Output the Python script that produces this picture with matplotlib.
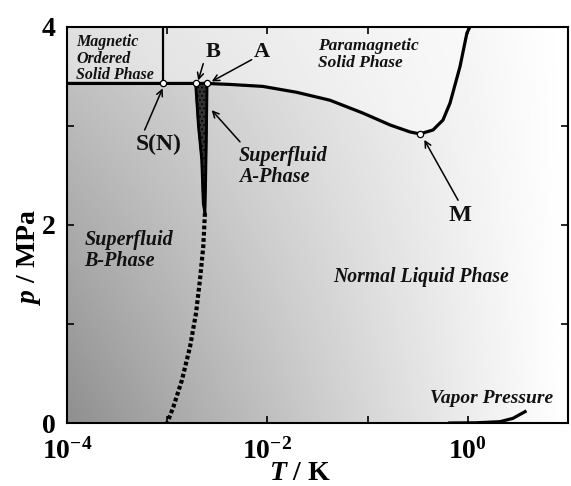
import numpy as np
import matplotlib
matplotlib.use("Agg")
import matplotlib.pyplot as plt

plt.rcParams['font.family'] = ['Liberation Serif', 'DejaVu Serif']
plt.rcParams['font.weight'] = 'bold'
plt.rcParams['mathtext.fontset'] = 'custom'
plt.rcParams['mathtext.rm'] = 'Liberation Serif:bold'
plt.rcParams['mathtext.it'] = 'Liberation Serif:italic:bold'
plt.rcParams['mathtext.bf'] = 'Liberation Serif:bold'
plt.rcParams['hatch.color'] = 'white'
plt.rcParams['hatch.linewidth'] = 0.8

# melting curve (K, MPa)
T_melt = [1e-4, 9.1e-4, 1.92e-3, 2.48e-3, 4.2e-3, 9.0e-3, 0.0197, 0.0422, 0.090,
          0.168, 0.265, 0.333, 0.45, 0.565, 0.664, 0.836, 0.98, 1.05]
p_melt = [3.43, 3.43, 3.43, 3.43, 3.42, 3.40, 3.34, 3.26, 3.13,
          3.01, 2.94, 2.92, 2.96, 3.06, 3.23, 3.60, 3.94, 4.0]

# superfluid transition line Tc (solid above PCP, dotted below)
T_c_upper = [2.50e-3, 2.47e-3, 2.42e-3, 2.38e-3]
p_c_upper = [3.43, 3.0, 2.45, 2.12]
T_c_lower = [2.38e-3, 2.29e-3, 2.12e-3, 1.94e-3, 1.69e-3, 1.40e-3, 1.15e-3, 1.00e-3]
p_c_lower = [2.12, 1.78, 1.44, 1.11, 0.77, 0.43, 0.16, 0.0]

# A-B transition line
T_ab = [1.92e-3, 2.05e-3, 2.21e-3, 2.29e-3, 2.38e-3]
p_ab = [3.43, 3.0, 2.66, 2.22, 2.12]

# magnetic ordering line in the solid
T_mag = [9.1e-4, 9.1e-4]
p_mag = [3.43, 4.0]

# vapor pressure
T_vap = [0.66, 1.2, 2.09, 2.82, 3.73]
p_vap = [0.0, 0.002, 0.013, 0.047, 0.115]

# special points
pts_T = [9.1e-4, 1.92e-3, 2.48e-3, 0.333]
pts_p = [3.43, 3.43, 3.43, 2.92]

x_ticks = [1e-4, 1e-3, 1e-2, 1e-1, 1e0, 1e1]
x_labels = [r'$10^{-4}$', '', r'$10^{-2}$', '', r'$10^{0}$', '']
y_ticks = [0, 1, 2, 3, 4]
y_labels = ['0', '', '2', '', '4']

fig = plt.figure(figsize=(5.71, 4.86), dpi=100)
ax = fig.add_axes([67/571, 1-423/486, (568-67)/571, (423-27)/486])

# grey background shading, dark at low T
u = np.linspace(0, 1, 300)
v = np.linspace(0, 1, 200)
U, V = np.meshgrid(u, v)
shade = 1 - 0.44*(1-U)**1.1*(1-0.5*V)
ax.imshow(shade, origin='lower', extent=[0, 1, 0, 1], transform=ax.transAxes,
          cmap='gray', vmin=0, vmax=1, aspect='auto', zorder=0, interpolation='bilinear')

ax.set_xscale('log')
ax.set_xlim(1e-4, 10)
ax.set_ylim(0, 4)

# lighter solid region
ax.fill_between(T_melt, p_melt, 4.0, color='white', alpha=0.45, lw=0, zorder=1)

# A phase wedge
wedge_T = T_ab + T_c_upper[::-1]
wedge_p = p_ab + p_c_upper[::-1]
ax.fill(wedge_T, wedge_p, facecolor='#333333', edgecolor='black', hatch='....', lw=1.4, zorder=3)

ax.plot(T_melt, p_melt, color='black', lw=2.3, zorder=4, solid_capstyle='butt')
ax.plot(T_mag, p_mag, color='black', lw=1.6, zorder=4)
ax.plot(T_c_upper, p_c_upper, color='black', lw=2.0, zorder=4)
ax.plot(T_ab, p_ab, color='black', lw=2.0, zorder=4)
ax.plot(T_c_lower, p_c_lower, color='black', lw=3.0, linestyle=(0, (0.9, 0.6)),
        dash_capstyle='butt', zorder=4)
ax.plot(T_vap, p_vap, color='black', lw=2.3, zorder=4)
ax.plot(pts_T, pts_p, 'o', ms=4.5, mfc='white', mec='black', mew=0.9, zorder=6)

bi = dict(fontstyle='italic', fontweight='bold', color='#111111')
ax.text(1.23e-4, 3.68, 'Magnetic\nOrdered\nSolid Phase', fontsize=11.5, va='center', ha='left',
        linespacing=1.05, **bi)
ax.text(0.032, 3.72, 'Paramagnetic\nSolid Phase', fontsize=12.5, va='center', ha='left',
        linespacing=1.05, **bi)
ax.text(5.2e-3, 2.59, 'Superfluid\nA-Phase', fontsize=14.5, va='center', ha='left',
        linespacing=1.05, **bi)
ax.text(1.5e-4, 1.74, 'Superfluid\nB-Phase', fontsize=14.5, va='center', ha='left',
        linespacing=1.05, **bi)
ax.text(0.0449, 1.47, 'Normal Liquid Phase', fontsize=14.2, va='center', ha='left', **bi)
ax.text(0.42, 0.25, 'Vapor Pressure', fontsize=14, va='center', ha='left', **bi)

bold = dict(fontweight='bold', color='#111111')
ax.text(2.86e-3, 3.75, 'B', fontsize=16, ha='center', va='center', **bold)
ax.text(8.83e-3, 3.75, 'A', fontsize=16, ha='center', va='center', **bold)
ax.text(8.2e-4, 2.81, 'S(N)', fontsize=17, ha='center', va='center', **bold)
ax.text(0.836, 2.10, 'M', fontsize=17.5, ha='center', va='center', **bold)

arrow = dict(arrowstyle='->', lw=1.1, color='black', shrinkA=0, shrinkB=0, mutation_scale=11)
ax.annotate('', xy=(9.0e-4, 3.38), xytext=(5.96e-4, 2.96), arrowprops=arrow, zorder=5)
ax.annotate('', xy=(2.04e-3, 3.46), xytext=(2.29e-3, 3.63), arrowprops=arrow, zorder=5)
ax.annotate('', xy=(2.78e-3, 3.45), xytext=(6.97e-3, 3.67), arrowprops=arrow, zorder=5)
ax.annotate('', xy=(2.78e-3, 3.16), xytext=(5.33e-3, 2.84), arrowprops=arrow, zorder=5)
ax.annotate('', xy=(0.368, 2.86), xytext=(0.80, 2.25), arrowprops=arrow, zorder=5)

ax.set_xticks(x_ticks)
ax.set_xticklabels(x_labels)
ax.minorticks_off()
ax.set_yticks(y_ticks)
ax.set_yticklabels(y_labels)
ax.tick_params(direction='in', top=True, right=True, length=5, width=1.2, labelsize=20)
ax.tick_params(axis='x', pad=11)
ax.tick_params(axis='y', pad=8)
for lab in ax.get_xticklabels() + ax.get_yticklabels():
    lab.set_fontweight('bold')
for s in ax.spines.values():
    s.set_linewidth(1.5)

ax.set_xlabel(r'$\mathit{T}$ / K', fontsize=20, fontweight='bold')
ax.xaxis.set_label_coords(0.465, -0.095)
ax.set_ylabel(r'$\mathit{p}$ / MPa', fontsize=20, fontweight='bold')
ax.yaxis.set_label_coords(-0.048, 0.42)

fig.savefig('out.png', dpi=100)
